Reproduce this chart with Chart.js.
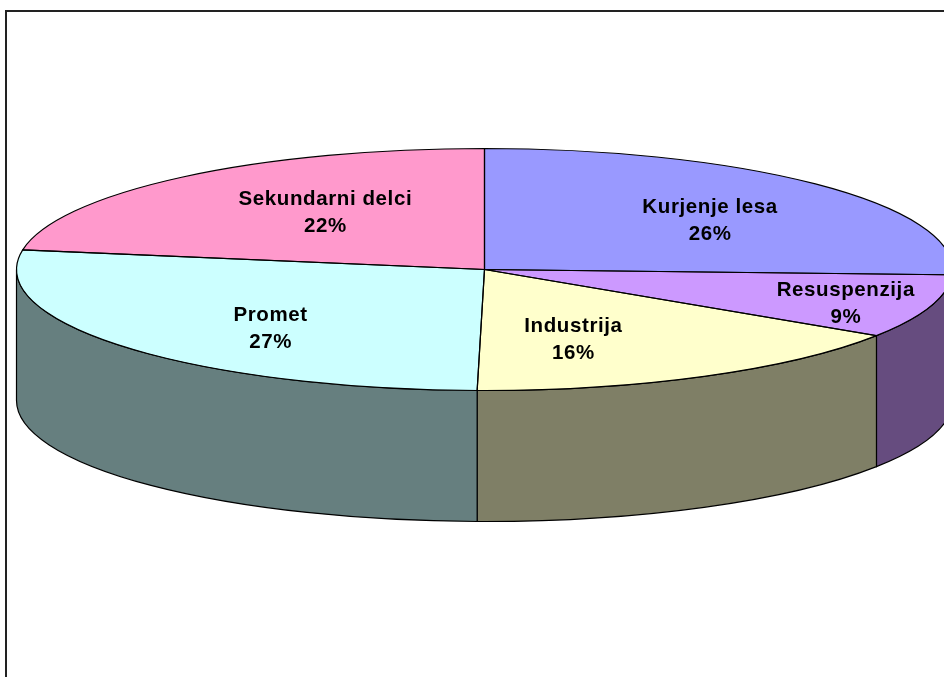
<!DOCTYPE html>
<html>
<head>
<meta charset="utf-8">
<script src="https://cdn.jsdelivr.net/npm/chart.js@4"></script>
<style>
  html,body{margin:0;padding:0;background:#fff;overflow:hidden}
  #wrap{position:relative;width:944px;height:677px;overflow:hidden}
  #frame{position:absolute;left:5px;top:10px;width:1000px;height:800px;border:2px solid #222;box-sizing:border-box}
  #pie{position:absolute;left:0;top:0}
</style>
</head>
<body>
<div id="wrap"><div id="frame"></div><canvas id="pie" width="944" height="677"></canvas></div>
<script>
const categories=['Kurjenje lesa','Resuspenzija','Industrija','Promet','Sekundarni delci'];
const values=[25.7,8.5,16.05,27.35,22.4];
const topColors=['#9999FF','#CC99FF','#FFFFCC','#CCFFFF','#FF99CC'];
const sideColors=['#4C4C7F','#664C7F','#7F7F66','#667F7F','#7F4C66'];

// tilted disc, in screen pixels
const DISC={cx:484.5,cy:269.5,rx:468,ry:121,depth:131};
// label anchors as fractions of rx / ry from the disc centre
const labelAnchors=[[0.482,-0.405],[0.772,0.285],[0.19,0.585],[-0.457,0.49],[-0.34,-0.468]];

const tilt=(ctx,arc)=>{
  const R=arc.outerRadius;
  ctx.translate(DISC.cx,DISC.cy);
  ctx.scale(DISC.rx/R,DISC.ry/R);
  ctx.translate(-arc.x,-arc.y);
};

const disc3d={
  id:'disc3d',
  beforeDatasetsDraw(chart){
    const {ctx}=chart, {cx,cy,rx,ry,depth}=DISC;
    const arcs=chart.getDatasetMeta(0).data;
    // wall of the disc: only the part of each slice facing the viewer
    arcs.forEach((arc,i)=>{
      const a=Math.max(arc.startAngle,0), b=Math.min(arc.endAngle,Math.PI);
      if(b<=a) return;
      ctx.save();
      ctx.beginPath();
      ctx.ellipse(cx,cy,rx,ry,0,a,b);
      ctx.ellipse(cx,cy+depth,rx,ry,0,b,a,true);
      ctx.closePath();
      ctx.fillStyle=sideColors[i];
      ctx.fill();
      ctx.lineWidth=1.2;
      ctx.strokeStyle='#000';
      ctx.stroke();
      ctx.restore();
    });
    ctx.save();
    tilt(ctx,arcs[0]);
  },
  afterDatasetsDraw(chart){
    const {ctx}=chart, {cx,cy,rx,ry}=DISC;
    ctx.restore();
    const arcs=chart.getDatasetMeta(0).data;
    // outlines stroked untransformed so they keep an even width
    ctx.save();
    ctx.lineWidth=1.2;
    ctx.strokeStyle='#000';
    arcs.forEach(arc=>{
      ctx.beginPath();
      ctx.moveTo(cx,cy);
      ctx.ellipse(cx,cy,rx,ry,0,arc.startAngle,arc.endAngle);
      ctx.closePath();
      ctx.stroke();
    });
    ctx.fillStyle='#000';
    ctx.textAlign='center';
    ctx.textBaseline='middle';
    ctx.font='bold 20.5px "Liberation Sans", Arial, sans-serif';
    ctx.letterSpacing='0.6px';
    arcs.forEach((arc,i)=>{
      const x=cx+labelAnchors[i][0]*rx, y=cy+labelAnchors[i][1]*ry;
      ctx.fillText(categories[i],x,y-13.5);
      ctx.fillText(Math.round(values[i])+'%',x,y+13.5);
    });
    ctx.restore();
  }
};

new Chart(document.getElementById('pie'),{
  type:'pie',
  data:{labels:categories,datasets:[{data:values,backgroundColor:topColors,borderWidth:0}]},
  options:{
    responsive:false,animation:false,
    layout:{padding:0},
    plugins:{legend:{display:false},tooltip:{enabled:false}}
  },
  plugins:[disc3d]
});
</script>
</body>
</html>
